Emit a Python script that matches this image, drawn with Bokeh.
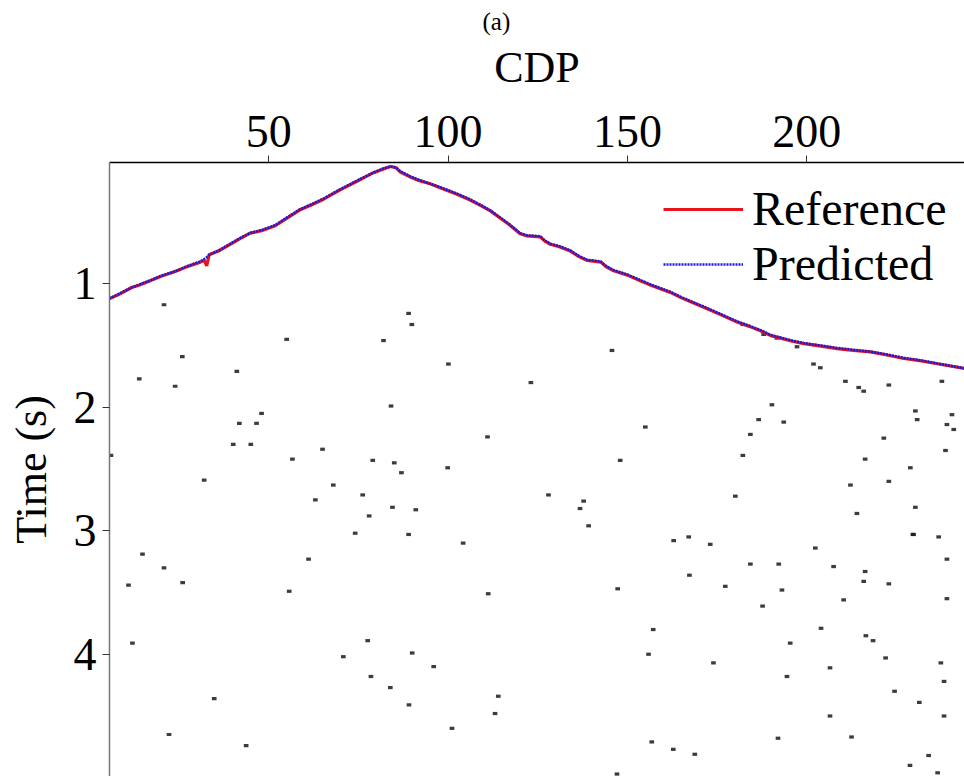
from bokeh.plotting import figure
from bokeh.models import Range1d, Legend, LegendItem
from bokeh.embed import file_html
from bokeh.resources import INLINE

# ---------------- data ----------------
ref_cdp = [5.6, 8, 11.8, 14, 16.9, 20, 23.9, 27, 30.9, 32.0, 32.7, 33.4, 36, 40.2, 42, 44.8, 48, 51.8,
           55, 58.8, 62, 65.3, 69.9, 74.6, 79.2, 82, 83.9, 85.5, 86.7, 89.5, 92, 95.0, 98.5, 102.5, 106,
           109.0, 111.8, 114.6, 117, 120.1, 122, 125.7, 127, 128.5, 131, 134.1, 136.5, 138.7, 140, 142.6,
           144, 146.2, 150, 153.6, 156, 159.2, 162, 164.8, 168, 171.3, 176, 180.6, 184, 187.1, 190, 192.7,
           196, 199.2, 204, 208.5, 213, 217.8, 222, 227.1, 232, 236.4, 244.0]
ref_time = [1.12, 1.09, 1.03, 1.01, 0.975, 0.94, 0.90, 0.865, 0.825, 0.81, 0.855, 0.765, 0.735, 0.665, 0.635,
            0.59, 0.57, 0.53, 0.47, 0.40, 0.36, 0.315, 0.24, 0.17, 0.10, 0.07, 0.05, 0.06, 0.095, 0.135,
            0.165, 0.19, 0.23, 0.275, 0.32, 0.365, 0.41, 0.47, 0.52, 0.595, 0.612, 0.62, 0.655, 0.68, 0.70,
            0.735, 0.78, 0.81, 0.815, 0.825, 0.86, 0.895, 0.93, 0.975, 1.005, 1.04, 1.07, 1.11, 1.15, 1.19,
            1.25, 1.31, 1.345, 1.38, 1.42, 1.44, 1.465, 1.485, 1.505, 1.525, 1.54, 1.552, 1.575, 1.605,
            1.625, 1.648, 1.686]
pred_cdp = ref_cdp
pred_time = [1.12, 1.085, 1.03, 1.005, 0.975, 0.935, 0.90, 0.86, 0.82, 0.80, 0.785, 0.765, 0.73, 0.66, 0.63,
             0.59, 0.565, 0.525, 0.465, 0.395, 0.355, 0.31, 0.235, 0.165, 0.10, 0.065, 0.05, 0.06, 0.09, 0.13,
             0.16, 0.19, 0.225, 0.27, 0.315, 0.36, 0.405, 0.465, 0.515, 0.59, 0.608, 0.615, 0.65, 0.675, 0.695,
             0.73, 0.775, 0.805, 0.81, 0.82, 0.855, 0.89, 0.925, 0.97, 1.0, 1.035, 1.065, 1.105, 1.145, 1.185,
             1.245, 1.305, 1.34, 1.375, 1.415, 1.435, 1.46, 1.48, 1.5, 1.52, 1.535, 1.55, 1.57, 1.6,
             1.62, 1.645, 1.684]

# strong amplitude spots in the seismic section (CDP, time)
spot_cdp = [20.8, 25.9, 41.1, 13.9, 23.9, 48.0, 41.8, 46.6, 40.1, 45.0, 65.0, 6.0, 79.0, 85.0, 87.0, 99.9,
            111.0, 100.1, 84.1, 82.0, 89.9, 89.0, 55.0, 32.0, 56.6, 68.0, 76.2, 78.0, 84.5, 91.0, 74.1, 89.0,
            104.2, 61.1, 20.8, 14.8, 10.9, 55.7, 111.2, 123.1, 63.0, 26.0,
            145.7, 155.0, 148.0, 180.1, 173.1, 202.4, 192.2, 184.3, 167.3, 147.3, 139.2, 137.8, 216.3, 222.9,
            239.1, 229.8, 230.3, 228.9, 221.5, 230.8, 239.1, 241.0, 240.5, 237.7, 222.9, 215.9, 214.5, 210.8,
            203.8, 201.9, 190.3, 193.6, 186.6, 184.3, 182.2, 216.3, 238.7, 230.3, 212.2, 222.9, 214.0, 229.6,
            215.9, 207.5, 236.8, 239.1, 210.3, 193.1, 177.3, 167.1, 162.9, 128.0, 136.8, 182.2, 188.0, 191.7,
            197.3,
            12.0, 157.2, 187.7, 204.0, 216.5, 218.5, 195.4, 224.5, 231.4, 238.3, 206.5, 192.0, 168.8, 162.8,
            156.8, 174.0, 155.9, 234.0, 212.5, 228.8, 114.0, 113.1, 101.1, 96.0, 89.1, 90.0, 83.9, 78.5, 70.8,
            77.6, 43.7, 22.2, 34.8, 147.1, 236.5, 238.3, 206.5, 194.5, 222.0, 237.4]
spot_time = [1.17, 1.59, 1.71, 1.77, 1.83, 2.05, 2.13, 2.13, 2.30, 2.30, 2.34, 2.39, 2.43, 2.45, 2.53, 2.49,
             2.24, 1.65, 1.99, 1.46, 1.33, 1.24, 1.45, 2.59, 2.42, 2.63, 2.71, 2.88, 2.81, 2.83, 3.02, 3.03,
             3.10, 3.23, 3.30, 3.19, 3.44, 3.49, 3.51, 1.80, 2.75, 3.42,
             1.54, 2.16, 2.43, 2.72, 3.11, 3.14, 3.27, 3.27, 3.36, 3.47, 2.96, 2.76, 3.33, 3.43,
             3.23, 3.03, 2.81, 2.49, 2.25, 2.10, 2.14, 2.18, 2.06, 1.79, 1.82, 1.87, 1.84, 1.79,
             1.68, 1.65, 1.98, 2.12, 2.10, 2.22, 2.39, 2.42, 2.35, 2.03, 2.63, 2.60, 2.86, 3.03,
             3.41, 3.29, 3.05, 3.55, 3.56, 3.48, 3.45, 3.05, 3.08, 2.71, 2.82, 1.33, 1.41, 1.44,
             1.51,
             3.91, 3.80, 3.61, 3.79, 3.85, 3.89, 3.91, 4.30, 4.39, 4.50, 4.50, 4.68, 4.81, 4.77,
             4.71, 4.07, 4.00, 4.82, 4.67, 4.90, 4.34, 4.48, 4.60, 4.10, 4.41, 3.99, 4.27, 4.18, 4.02,
             3.89, 4.74, 4.65, 4.36, 4.97, 4.96, 4.22, 4.11, 4.18, 4.03, 4.07]

x_ticks = [50, 100, 150, 200]
y_ticks = [1, 2, 3, 4]
series_names = ["Reference", "Predicted"]
panel_label = "(a)"

# ---------------- figure ----------------
FONT = "Liberation Serif"
W, H = 964, 776
BL, BT = 109, 160

p = figure(width=W, height=H, x_range=Range1d(5.6, 244.0), y_range=Range1d(4.99, 0.018),
           x_axis_location="above", output_backend="svg", toolbar_location=None,
           min_border_left=BL, min_border_top=BT, min_border_right=0, min_border_bottom=0)
p.grid.visible = False
p.outline_line_color = None
p.background_fill_color = "white"
p.border_fill_color = "white"

p.title.text = panel_label
p.title.text_font = FONT
p.title.text_font_size = "25px"
p.title.text_font_style = "normal"
p.title.text_color = "black"
p.title.align = "left"
p.title.offset = 373

p.rect(x=spot_cdp, y=spot_time, width=1.3, height=0.026, fill_color="#1a1a1a",
       line_color=None, fill_alpha=0.85)

r_ref = p.line(ref_cdp, ref_time, line_color="#e8141c", line_width=3.2)
r_pred = p.line(pred_cdp, pred_time, line_color="#1a1adc", line_width=2.6, line_dash="2 1")

for ax in (p.xaxis[0], p.yaxis[0]):
    ax.major_label_text_font = FONT
    ax.axis_label_text_font = FONT
    ax.axis_label_text_font_style = "normal"
    ax.major_label_text_font_size = "46px"
    ax.axis_label_text_font_size = "44px"
    ax.major_label_text_color = "black"
    ax.axis_label_text_color = "black"
    ax.major_tick_out = 7
    ax.major_tick_in = 0
    ax.minor_tick_out = 0
    ax.minor_tick_in = 0
    ax.major_tick_line_color = "#333333"

p.xaxis.ticker = x_ticks
p.yaxis.ticker = y_ticks
p.xaxis.axis_label = "CDP"
p.yaxis.axis_label = "Time (s)"
p.xaxis.axis_line_color = "black"
p.xaxis.axis_line_width = 1.5
p.yaxis.axis_line_color = "#777777"
p.yaxis.axis_line_width = 1.5
p.xaxis.major_label_standoff = 9
p.xaxis.axis_label_standoff = 21
p.yaxis.major_label_standoff = 6
p.yaxis.axis_label_standoff = 15

legend = Legend(items=[LegendItem(label=series_names[0], renderers=[r_ref]),
                       LegendItem(label=series_names[1], renderers=[r_pred])],
                location=(554, 485), label_text_font=FONT, label_text_font_size="48px",
                label_text_color="black",
                glyph_width=80, glyph_height=20, label_standoff=9, spacing=0, padding=0, margin=0,
                border_line_color=None, background_fill_alpha=0)
p.add_layout(legend)

open("out.html", "w").write(file_html(p, INLINE))
